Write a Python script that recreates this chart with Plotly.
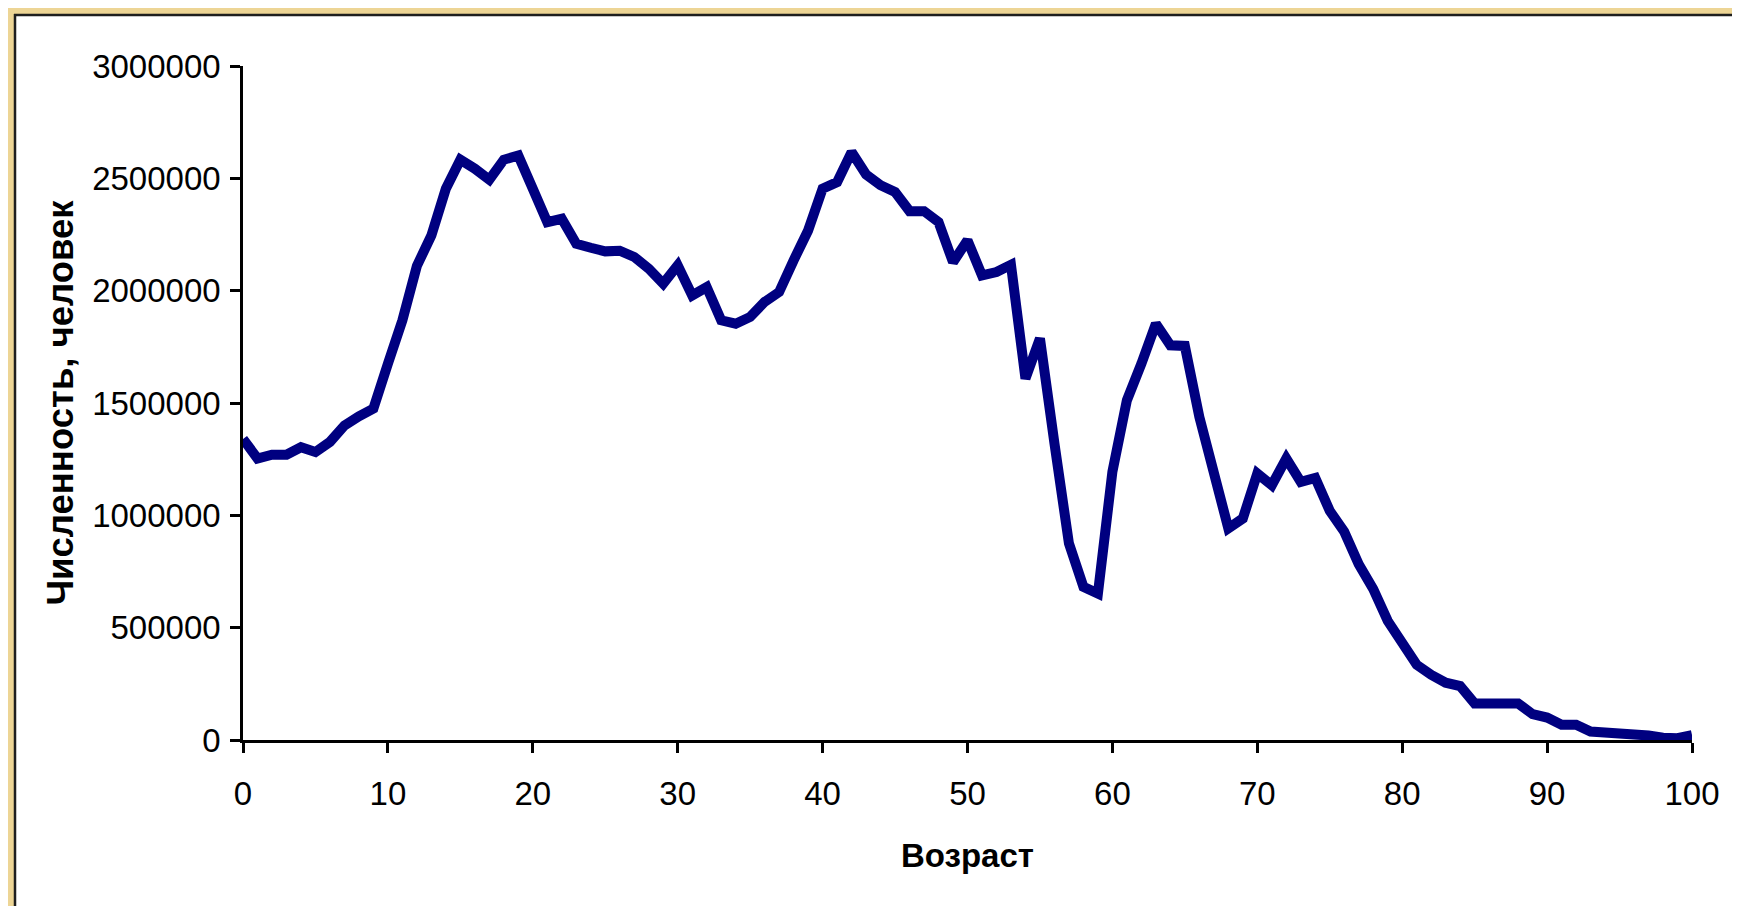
import plotly.graph_objects as go

# ---- data ----
ages = list(range(0, 101))
population = [
    1340000, 1253000, 1270000, 1270000, 1303000, 1282000, 1327000, 1400000, 1441000, 1475000,
    1675000, 1868000, 2110000, 2246000, 2454000, 2583000, 2543000, 2494000, 2583000, 2602000,
    2454000, 2305000, 2320000, 2209000, 2191000, 2175000, 2178000, 2150000, 2098000, 2031000,
    2113000, 1979000, 2016000, 1868000, 1853000, 1883000, 1950000, 1994000, 2135000, 2268000,
    2454000, 2483000, 2617000, 2517000, 2469000, 2439000, 2354000, 2354000, 2305000, 2127000,
    2224000, 2068000, 2083000, 2115000, 1609000, 1787000, 1320000, 875000, 682000, 652000,
    1194000, 1512000, 1675000, 1853000, 1757000, 1754000, 1438000, 1201000, 942000, 986000,
    1186000, 1134000, 1253000, 1149000, 1166000, 1020000, 927000, 782000, 672000, 530000,
    430000, 335000, 290000, 255000, 240000, 163000, 163000, 163000, 163000, 115000,
    100000, 68000, 68000, 38000, 35000, 22000, 20000, 20000, 10000, 8000,
    22000,
]
x_ticks = [0, 10, 20, 30, 40, 50, 60, 70, 80, 90, 100]
y_ticks = [0, 500000, 1000000, 1500000, 2000000, 2500000, 3000000]
x_title = "Возраст"
y_title = "Численность, человек"

# ---- layout geometry (pixels, figure coordinates; page adds an 8px body margin) ----
W, H = 1724, 898
L, R, T, B = 235, 40, 58, 166
pw, ph = W - L - R, H - T - B

def px_x(p):
    return (p - L) / pw

def px_y(p):
    return (H - B - p) / ph

FONT = "Liberation Sans, Arial, sans-serif"
GOLD = "#edd595"
EDGE = "#1e1e1e"

fig = go.Figure()
fig.add_trace(go.Scatter(
    x=ages, y=population, mode="lines",
    line=dict(color="#000080", width=10),
    hoverinfo="x+y", showlegend=False,
))

# golden frame strips on top and left, with a dark edge line
frame = 6
fig.add_shape(type="rect", xref="paper", yref="paper", layer="below",
              x0=px_x(0), x1=px_x(W), y0=px_y(frame), y1=px_y(0),
              fillcolor=GOLD, line=dict(width=0))
fig.add_shape(type="rect", xref="paper", yref="paper", layer="below",
              x0=px_x(0), x1=px_x(frame), y0=px_y(H), y1=px_y(0),
              fillcolor=GOLD, line=dict(width=0))
fig.add_shape(type="line", xref="paper", yref="paper", layer="below",
              x0=px_x(frame), x1=px_x(W), y0=px_y(frame + 1), y1=px_y(frame + 1),
              line=dict(color=EDGE, width=2.5))
fig.add_shape(type="line", xref="paper", yref="paper", layer="below",
              x0=px_x(frame + 1), x1=px_x(frame + 1), y0=px_y(frame), y1=px_y(H),
              line=dict(color=EDGE, width=2.5))

axis_common = dict(
    showline=True, linecolor="black", linewidth=2.5,
    ticks="outside", ticklen=10, tickwidth=2.5, tickcolor="black",
    showgrid=False, zeroline=False,
    tickfont=dict(family=FONT, size=33, color="black"),
)

fig.update_xaxes(
    range=[0, 100], tickvals=x_ticks, **axis_common,
    ticklabelstandoff=13,
    title=dict(text=x_title, font=dict(family=FONT, size=33, color="black", weight="bold"), standoff=33),
)
fig.update_yaxes(
    range=[0, 3000000], tickvals=y_ticks, tickformat="d", **axis_common,
    ticklabelstandoff=3,
    title=dict(text=y_title, font=dict(family=FONT, size=36.5, color="black", weight="bold"), standoff=8),
)

fig.update_layout(
    width=W, height=H,
    margin=dict(l=L, r=R, t=T, b=B, autoexpand=False),
    paper_bgcolor="white",
    plot_bgcolor="white",
    font=dict(family=FONT, color="black"),
)

fig.write_html("out.html")
